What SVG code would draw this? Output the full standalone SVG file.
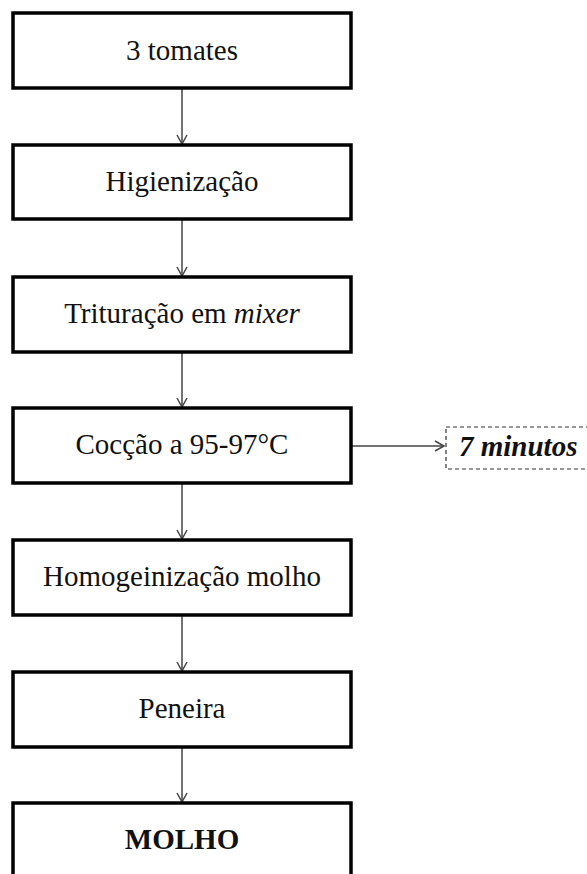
<svg xmlns="http://www.w3.org/2000/svg" width="587" height="874" viewBox="0 0 587 874">
<style>
.box{fill:#fff;stroke:#000;stroke-width:3.5}
.t{font-family:"Liberation Serif","Times New Roman",serif;font-size:29px;fill:#111;text-anchor:middle}
.c{stroke:#444;stroke-width:1.5;fill:none}
</style>
<defs>
<marker id="ah" markerWidth="12" markerHeight="12" refX="10" refY="6" orient="auto" markerUnits="userSpaceOnUse">
<path d="M1,1 L10,6 L1,11" fill="none" stroke="#444" stroke-width="1.5"/>
</marker>
</defs>
<rect width="587" height="874" fill="#fff"/>
<g id="connectors">
<line class="c" x1="182" y1="88" x2="182" y2="144" marker-end="url(#ah)"/>
<line class="c" x1="182" y1="219" x2="182" y2="276" marker-end="url(#ah)"/>
<line class="c" x1="182" y1="352" x2="182" y2="407" marker-end="url(#ah)"/>
<line class="c" x1="182" y1="483" x2="182" y2="539" marker-end="url(#ah)"/>
<line class="c" x1="182" y1="615" x2="182" y2="671" marker-end="url(#ah)"/>
<line class="c" x1="182" y1="747" x2="182" y2="802" marker-end="url(#ah)"/>
<line class="c" x1="351" y1="446" x2="444" y2="446" marker-end="url(#ah)"/>
</g>
<g id="n1"><rect class="box" x="13" y="13" width="338" height="75"/><text class="t" x="182" y="60">3 tomates</text></g>
<g id="n2"><rect class="box" x="13" y="145" width="338" height="74"/><text class="t" x="182" y="191">Higienização</text></g>
<g id="n3"><rect class="box" x="13" y="277" width="338" height="75"/><text class="t" x="182" y="323">Trituração em <tspan font-style="italic">mixer</tspan></text></g>
<g id="n4"><rect class="box" x="13" y="408" width="338" height="75"/><text class="t" x="182" y="454">Cocção a 95-97°C</text></g>
<g id="n5"><rect class="box" x="13" y="540" width="338" height="75"/><text class="t" x="182" y="586">Homogeinização molho</text></g>
<g id="n6"><rect class="box" x="13" y="672" width="338" height="75"/><text class="t" x="182" y="718">Peneira</text></g>
<g id="n7"><rect class="box" x="13" y="803" width="338" height="90"/><text class="t" x="182" y="849" style="font-weight:bold">MOLHO</text></g>
<g id="n8"><rect x="446" y="427" width="150" height="42" fill="#fff" stroke="#333" stroke-width="1.2" stroke-dasharray="4,3"/><text class="t" x="459" y="456" style="text-anchor:start;font-weight:bold;font-style:italic">7 minutos</text></g>
</svg>
